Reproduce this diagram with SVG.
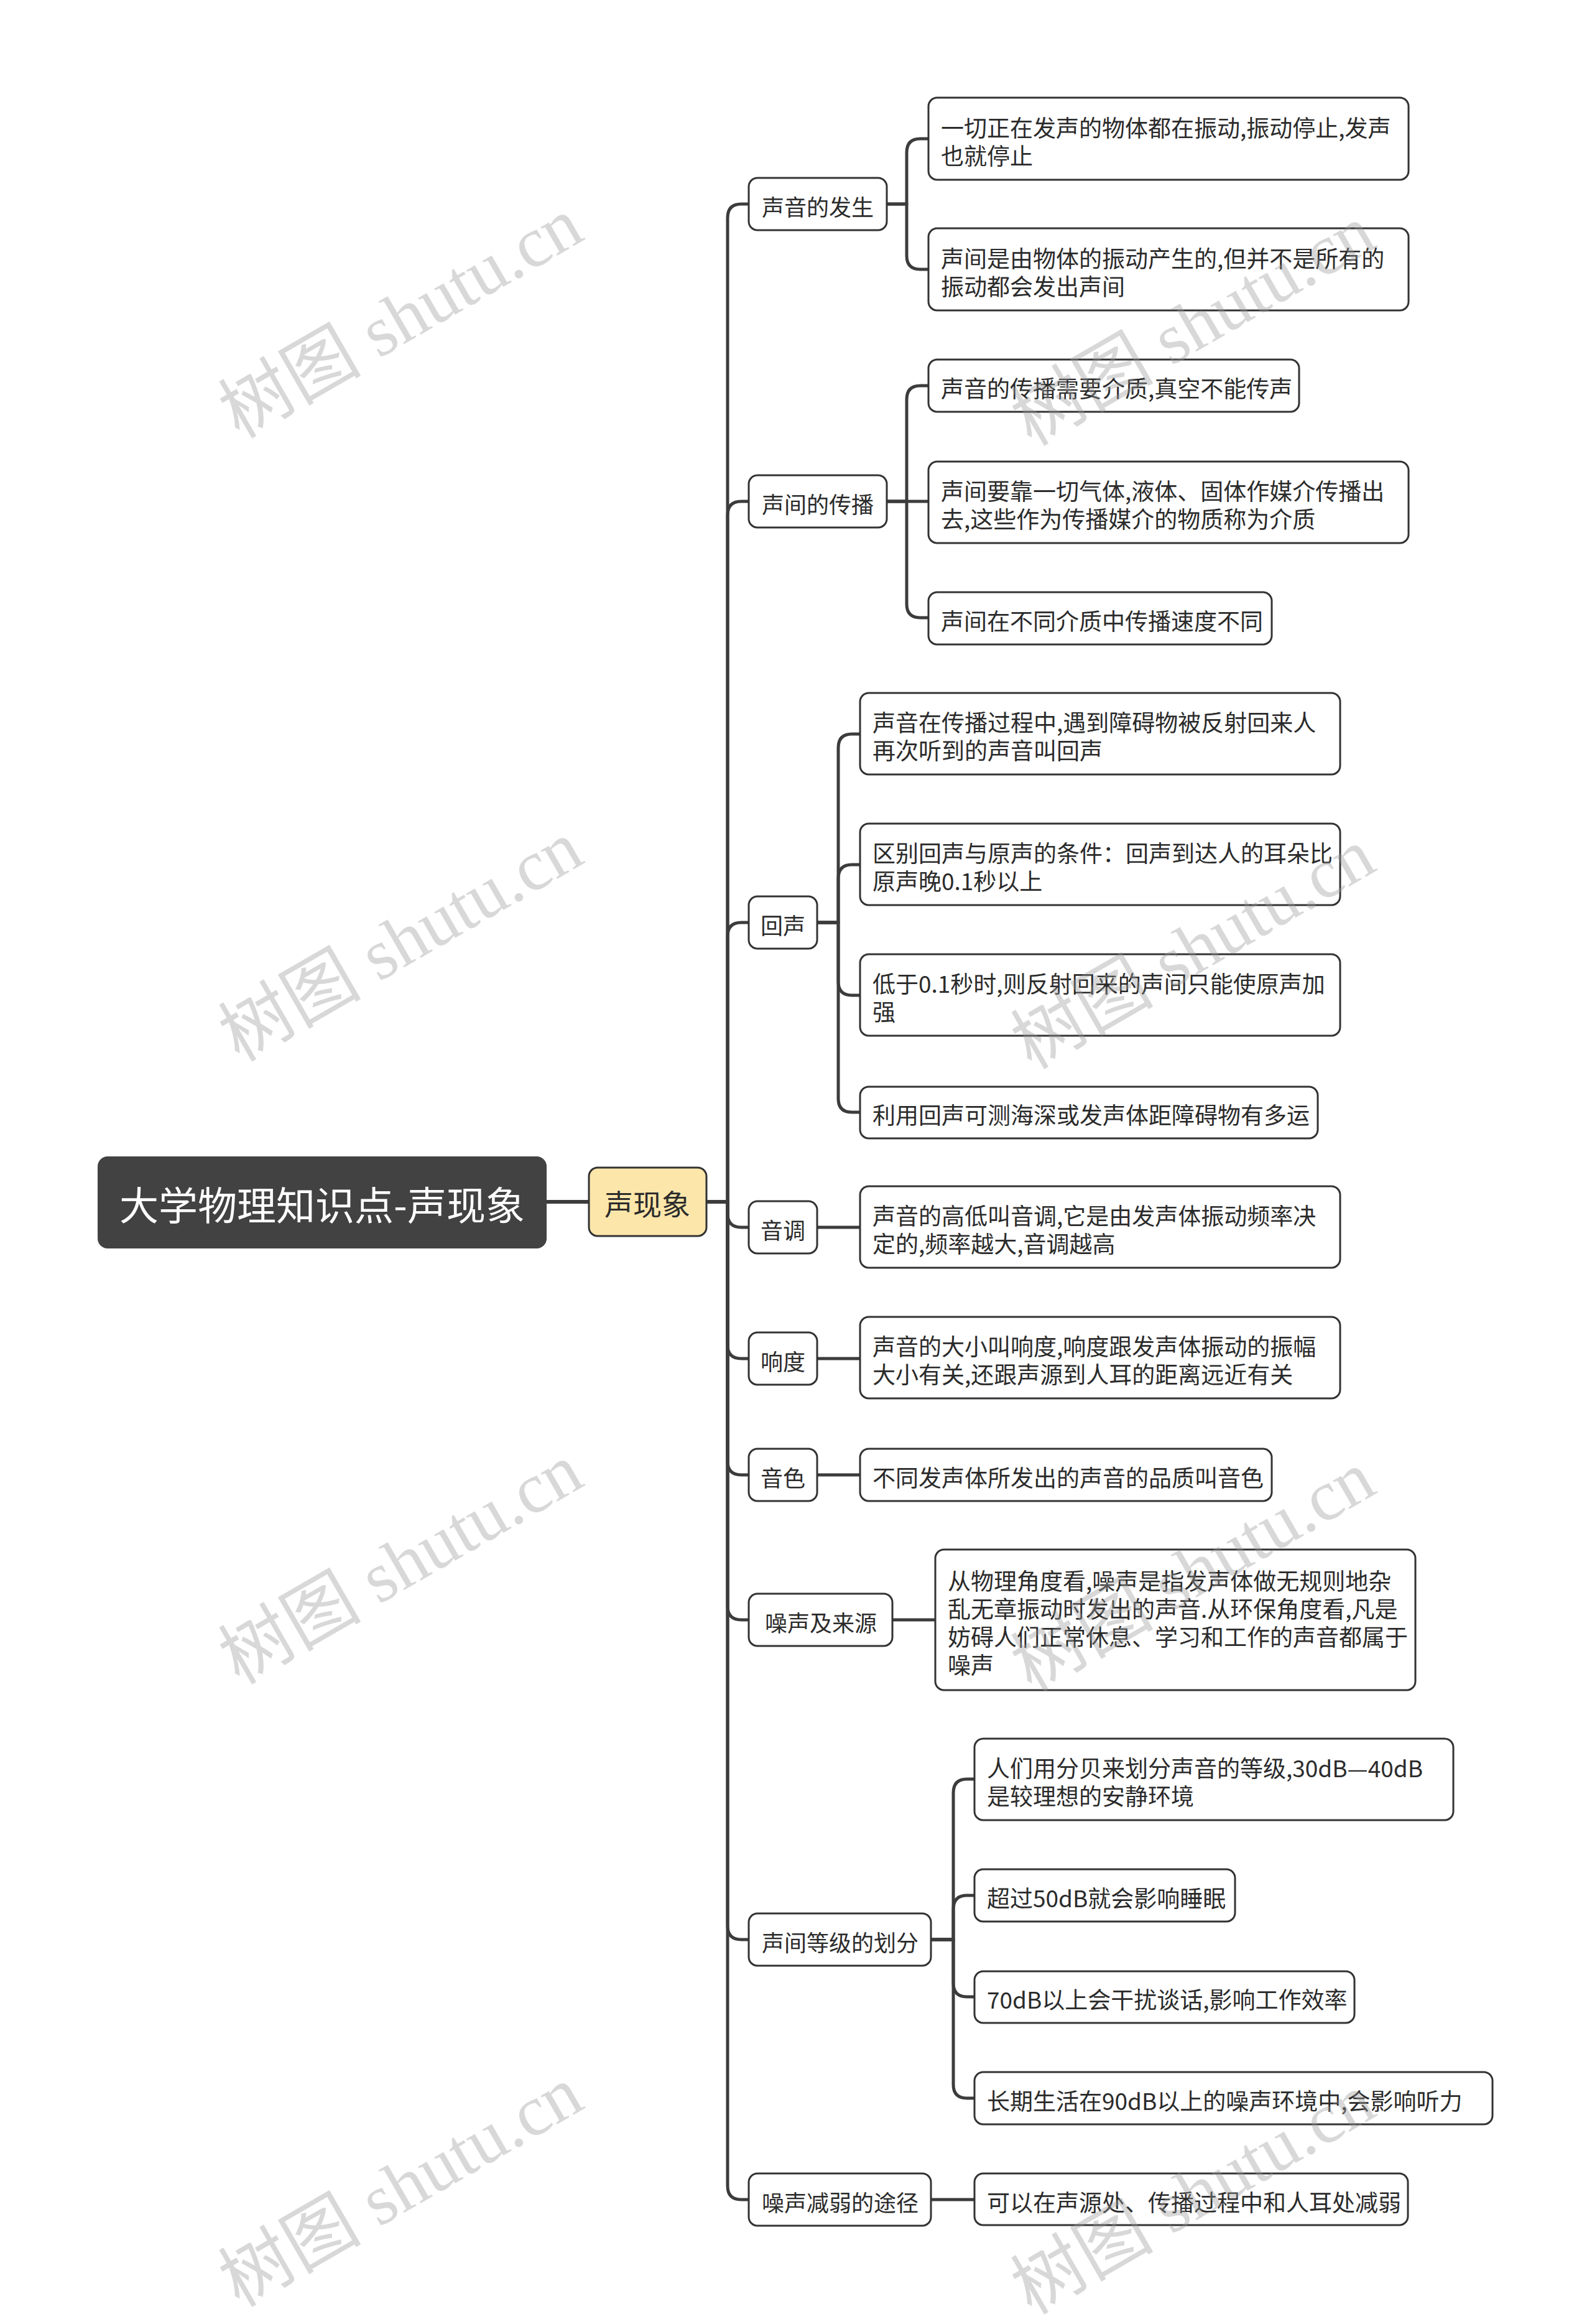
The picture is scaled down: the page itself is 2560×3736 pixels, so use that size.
<svg xmlns="http://www.w3.org/2000/svg" width="2560" height="3736" viewBox="0 0 2560 3736">
<style>
.bg{fill:#ffffff}
.c{fill:none;stroke:#3c3c3c;stroke-width:5;stroke-linecap:round;stroke-linejoin:round}
.c0{fill:none;stroke:#3c3c3c;stroke-width:6}
.n{fill:#ffffff;stroke:#333333;stroke-width:3}
.main{fill:#FDE6AA;stroke:#333333;stroke-width:3}
.root{fill:#424242}
.t{font-family:"Noto Sans CJK SC","Noto Sans",sans-serif;font-size:37px;fill:#2b2b2b;dominant-baseline:central}
.s{font-family:"Noto Sans CJK SC","Noto Sans",sans-serif;font-size:36px;fill:#2b2b2b;dominant-baseline:central;text-anchor:middle}
.rt{font-family:"Noto Sans CJK SC","Noto Sans",sans-serif;font-size:63px;fill:#ffffff;text-anchor:middle;dominant-baseline:central}
.mt{font-family:"Noto Sans CJK SC","Noto Sans",sans-serif;font-size:46px;fill:#2b2b2b;text-anchor:middle;dominant-baseline:central}
.wm{font-family:"Liberation Serif","Noto Sans CJK SC",serif;font-size:115px;fill:#9a9a9a;opacity:0.38;text-anchor:middle}
</style>
<rect class="bg" x="0" y="0" width="2560" height="3736"/>

<g id="connectors">
  <path class="c0" d="M879,1932 H947"/>
  <path class="c" d="M1136,1932 H1170 V350 Q1170,328 1192,328 H1204"/>
  <path class="c" d="M1136,1932 H1170 V828 Q1170,806 1192,806 H1204"/>
  <path class="c" d="M1136,1932 H1170 V1505 Q1170,1483 1192,1483 H1204"/>
  <path class="c" d="M1136,1932 H1170 V1951 Q1170,1973 1192,1973 H1204"/>
  <path class="c" d="M1136,1932 H1170 V2162 Q1170,2184 1192,2184 H1204"/>
  <path class="c" d="M1136,1932 H1170 V2349 Q1170,2371 1192,2371 H1204"/>
  <path class="c" d="M1136,1932 H1170 V2582 Q1170,2604 1192,2604 H1204"/>
  <path class="c" d="M1136,1932 H1170 V3096 Q1170,3118 1192,3118 H1204"/>
  <path class="c" d="M1136,1932 H1170 V3514 Q1170,3536 1192,3536 H1204"/>
  <path class="c" d="M1426,328 H1458 V245 Q1458,223 1480,223 H1493"/>
  <path class="c" d="M1426,328 H1458 V411 Q1458,433 1480,433 H1493"/>
  <path class="c" d="M1426,806 H1458 V642 Q1458,620 1480,620 H1493"/>
  <path class="c" d="M1426,806 H1493"/>
  <path class="c" d="M1426,806 H1458 V971 Q1458,993 1480,993 H1493"/>
  <path class="c" d="M1314,1483 H1348 V1202 Q1348,1180 1370,1180 H1383"/>
  <path class="c" d="M1314,1483 H1348 V1412 Q1348,1390 1370,1390 H1383"/>
  <path class="c" d="M1314,1483 H1348 V1578 Q1348,1600 1370,1600 H1383"/>
  <path class="c" d="M1314,1483 H1348 V1766 Q1348,1788 1370,1788 H1383"/>
  <path class="c" d="M1314,1973 H1383"/>
  <path class="c" d="M1314,2184 H1383"/>
  <path class="c" d="M1314,2371 H1383"/>
  <path class="c" d="M1435,2604 H1504"/>
  <path class="c" d="M1497,3118 H1533 V2882 Q1533,2860 1555,2860 H1567"/>
  <path class="c" d="M1497,3118 H1533 V3069 Q1533,3047 1555,3047 H1567"/>
  <path class="c" d="M1497,3118 H1533 V3188 Q1533,3210 1555,3210 H1567"/>
  <path class="c" d="M1497,3118 H1533 V3351 Q1533,3373 1555,3373 H1567"/>
  <path class="c" d="M1497,3536 H1567"/>
</g>

<g id="root">
  <rect class="root" x="157" y="1859" width="722" height="148" rx="16"/>
  <text class="rt" x="518" y="1933">大学物理知识点-声现象</text>
</g>
<g id="main">
  <rect class="main" x="947" y="1877" width="189" height="110" rx="14"/>
  <text class="mt" x="1041" y="1933">声现象</text>
</g>

<g id="n1"><rect class="n" x="1204" y="286" width="222" height="84" rx="14"/><text class="s" x="1315" y="331">声音的发生</text></g>
<g id="n2"><rect class="n" x="1204" y="764" width="222" height="84" rx="14"/><text class="s" x="1315" y="809">声间的传播</text></g>
<g id="n3"><rect class="n" x="1204" y="1441" width="110" height="84" rx="14"/><text class="s" x="1259" y="1486">回声</text></g>
<g id="n4"><rect class="n" x="1204" y="1931" width="110" height="84" rx="14"/><text class="s" x="1259" y="1976">音调</text></g>
<g id="n5"><rect class="n" x="1204" y="2142" width="110" height="84" rx="14"/><text class="s" x="1259" y="2187">响度</text></g>
<g id="n6"><rect class="n" x="1204" y="2329" width="110" height="84" rx="14"/><text class="s" x="1259" y="2374">音色</text></g>
<g id="n7"><rect class="n" x="1204" y="2562" width="231" height="84" rx="14"/><text class="s" x="1320" y="2607">噪声及来源</text></g>
<g id="n8"><rect class="n" x="1204" y="3076" width="293" height="84" rx="14"/><text class="s" x="1351" y="3121">声间等级的划分</text></g>
<g id="n9"><rect class="n" x="1204" y="3494" width="293" height="84" rx="14"/><text class="s" x="1351" y="3539">噪声减弱的途径</text></g>

<g id="l1a"><rect class="n" x="1493" y="157" width="772" height="132" rx="14"/><text class="t" x="1513" y="204">一切正在发声的物体都在振动,振动停止,发声</text><text class="t" x="1513" y="249">也就停止</text></g>
<g id="l1b"><rect class="n" x="1493" y="367" width="772" height="132" rx="14"/><text class="t" x="1513" y="414">声间是由物体的振动产生的,但并不是所有的</text><text class="t" x="1513" y="459">振动都会发出声间</text></g>

<g id="l2a"><rect class="n" x="1493" y="578" width="596" height="84" rx="14"/><text class="t" x="1513" y="623">声音的传播需要介质,真空不能传声</text></g>
<g id="l2b"><rect class="n" x="1493" y="742" width="772" height="131" rx="14"/><text class="t" x="1513" y="788">声间要靠一切气体,液体、固体作媒介传播出</text><text class="t" x="1513" y="833">去,这些作为传播媒介的物质称为介质</text></g>
<g id="l2c"><rect class="n" x="1493" y="952" width="552" height="84" rx="14"/><text class="t" x="1513" y="997">声间在不同介质中传播速度不同</text></g>

<g id="l3a"><rect class="n" x="1383" y="1114" width="772" height="131" rx="14"/><text class="t" x="1403" y="1160">声音在传播过程中,遇到障碍物被反射回来人</text><text class="t" x="1403" y="1205">再次听到的声音叫回声</text></g>
<g id="l3b"><rect class="n" x="1383" y="1324" width="772" height="131" rx="14"/><text class="t" x="1403" y="1370">区别回声与原声的条件：回声到达人的耳朵比</text><text class="t" x="1403" y="1415">原声晚0.1秒以上</text></g>
<g id="l3c"><rect class="n" x="1383" y="1534" width="772" height="131" rx="14"/><text class="t" x="1403" y="1580">低于0.1秒时,则反射回来的声间只能使原声加</text><text class="t" x="1403" y="1625">强</text></g>
<g id="l3d"><rect class="n" x="1383" y="1747" width="736" height="83" rx="14"/><text class="t" x="1403" y="1791">利用回声可测海深或发声体距障碍物有多运</text></g>

<g id="l4"><rect class="n" x="1383" y="1907" width="772" height="131" rx="14"/><text class="t" x="1403" y="1953">声音的高低叫音调,它是由发声体振动频率决</text><text class="t" x="1403" y="1998">定的,频率越大,音调越高</text></g>
<g id="l5"><rect class="n" x="1383" y="2117" width="772" height="131" rx="14"/><text class="t" x="1403" y="2163">声音的大小叫响度,响度跟发声体振动的振幅</text><text class="t" x="1403" y="2208">大小有关,还跟声源到人耳的距离远近有关</text></g>
<g id="l6"><rect class="n" x="1383" y="2329" width="662" height="84" rx="14"/><text class="t" x="1403" y="2374">不同发声体所发出的声音的品质叫音色</text></g>

<g id="l7"><rect class="n" x="1504" y="2491" width="772" height="226" rx="14"/><text class="t" x="1524" y="2540">从物理角度看,噪声是指发声体做无规则地杂</text><text class="t" x="1524" y="2585">乱无章振动时发出的声音.从环保角度看,凡是</text><text class="t" x="1524" y="2630">妨碍人们正常休息、学习和工作的声音都属于</text><text class="t" x="1524" y="2675">噪声</text></g>

<g id="l8a"><rect class="n" x="1567" y="2795" width="770" height="131" rx="14"/><text class="t" x="1587" y="2841">人们用分贝来划分声音的等级,30dB—40dB</text><text class="t" x="1587" y="2886">是较理想的安静环境</text></g>
<g id="l8b"><rect class="n" x="1567" y="3005" width="419" height="84" rx="14"/><text class="t" x="1587" y="3050">超过50dB就会影响睡眠</text></g>
<g id="l8c"><rect class="n" x="1567" y="3169" width="611" height="83" rx="14"/><text class="t" x="1587" y="3213">70dB以上会干扰谈话,影响工作效率</text></g>
<g id="l8d"><rect class="n" x="1567" y="3331" width="833" height="84" rx="14"/><text class="t" x="1587" y="3376">长期生活在90dB以上的噪声环境中,会影响听力</text></g>

<g id="l9"><rect class="n" x="1567" y="3494" width="697" height="83" rx="14"/><text class="t" x="1587" y="3539">可以在声源处、传播过程中和人耳处减弱</text></g>

<g id="watermarks">
  <text class="wm" transform="translate(645,512) rotate(-30)" x="0" y="38">树图 shutu.cn</text>
  <text class="wm" transform="translate(645,1514) rotate(-30)" x="0" y="38">树图 shutu.cn</text>
  <text class="wm" transform="translate(645,2515) rotate(-30)" x="0" y="38">树图 shutu.cn</text>
  <text class="wm" transform="translate(645,3516) rotate(-30)" x="0" y="38">树图 shutu.cn</text>
  <text class="wm" transform="translate(1919,524) rotate(-30)" x="0" y="38">树图 shutu.cn</text>
  <text class="wm" transform="translate(1919,1526) rotate(-30)" x="0" y="38">树图 shutu.cn</text>
  <text class="wm" transform="translate(1919,2527) rotate(-30)" x="0" y="38">树图 shutu.cn</text>
  <text class="wm" transform="translate(1919,3528) rotate(-30)" x="0" y="38">树图 shutu.cn</text>
</g>
</svg>
